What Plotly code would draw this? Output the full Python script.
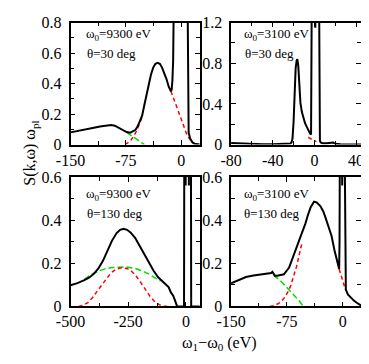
import plotly.graph_objects as go

FONT = "Liberation Serif, Times New Roman, DejaVu Serif, serif"
RED = "#ff0000"
GREEN = "#00dd00"

# ---- panel (a): w0=9300 eV, theta=30 deg
a_x = [-150, -140, -130, -120, -110, -100, -95, -90, -80, -74, -69, -65, -62, -59, -56, -53, -50, -47,
       -44, -41, -38, -35, -32, -29, -26, -23, -20, -17, -15, -14, -13, -12, -11, -10.5, -10,
       8.5, 9, 10, 12, 15, 18, 25]
a_tot = [0.080, 0.088, 0.098, 0.108, 0.118, 0.126, 0.128, 0.124, 0.100, 0.082, 0.078, 0.086, 0.097,
         0.12, 0.15, 0.19, 0.26, 0.33, 0.40, 0.46, 0.505, 0.53, 0.537, 0.53, 0.505, 0.47, 0.43, 0.38,
         0.355, 0.35, 0.36, 0.42, 0.55, 0.75, 1.0, 1.0, 0.3, 0.08, 0.04, 0.015, 0.005, 0.0]
a_red_x = [-76, -72, -68, -64, -60, -56, -53, None, -14, -10, -6, -2, 2, 6, 10, 14, 18]
a_red = [0, 0.012, 0.03, 0.058, 0.095, 0.14, 0.18, None, 0.35, 0.3, 0.245, 0.195, 0.14, 0.085, 0.045,
         0.02, 0.006]
a_grn_x = [-74, -70, -66, -62, -58, -54, -50]
a_grn = [0.08, 0.066, 0.052, 0.038, 0.024, 0.01, 0.0]

# ---- panel (b): w0=3100 eV, theta=30 deg
b_x = [-80, -70, -60, -50, -40, -30, -25, -23, -22, -21, -20, -19, -18, -17, -16.4, -15.5, -15, -14,
       -13.4, -12, -10.5, -9, -7.3, -6, -5, -4, -3.2, -2.8, -2.5, 0.6, 0.9, 1.2, 4.5, 4.9, 5.3, 6, 8,
       12, 14, 16, 17, 18, 19, 21, 25, 35, 45]
b_tot = [0.015, 0.01, 0.006, 0.004, 0.003, 0.004, 0.006, 0.01, 0.02, 0.06, 0.22, 0.5, 0.75, 0.83, 0.84,
         0.78, 0.68, 0.5, 0.41, 0.32, 0.26, 0.21, 0.174, 0.14, 0.12, 0.105, 0.1, 0.6, 1.5, 1.5, 1.15, 1.5,
         1.5, 0.3, 0.04, 0.02, 0.014, 0.012, 0.015, 0.022, 0.024, 0.02, 0.014, 0.008, 0.004, 0.002, 0.001]
b_red_x = [-6, -4, -2, 0, 2]
b_red = [0.07, 0.058, 0.046, 0.036, 0.028]

# ---- panel (c): w0=9300 eV, theta=130 deg
c_x = [-500, -470, -440, -420, -400, -380, -360, -340, -320, -300, -285, -270, -255, -240, -220, -200,
       -180, -160, -140, -120, -100, -85, -75, -65, -55, -48, -42, -38, -8, -7, -1.5, -1, -0.5, 12.5,
       13, 13.5, 22, 23, 40, 60]
c_tot = [0.098, 0.108, 0.122, 0.133, 0.15, 0.175, 0.21, 0.26, 0.305, 0.34, 0.355, 0.36, 0.355, 0.343,
         0.318, 0.28, 0.24, 0.2, 0.165, 0.135, 0.115, 0.1, 0.09, 0.065, 0.05, 0.03, 0.005, 0.0, 0.0,
         0.7, 0.7, 0.56, 0.7, 0.7, 0.56, 0.7, 0.7, 0.0, 0.0, 0.0]
c_red_x = [-465, -445, -425, -405, -385, -365, -345, -325, -305, -285, -270, -255, -235, -215, -195,
           -175, -155, -135, -115, -95, -80]
c_red = [0, 0.005, 0.018, 0.04, 0.07, 0.1, 0.13, 0.155, 0.171, 0.178, 0.178, 0.176, 0.163, 0.14, 0.11,
         0.077, 0.046, 0.022, 0.008, 0.002, 0]
c_grn_x = [-440, -410, -380, -350, -320, -290, -270, -250, -220, -190, -160, -130, -110]
c_grn = [0.125, 0.148, 0.163, 0.174, 0.18, 0.183, 0.183, 0.182, 0.176, 0.165, 0.15, 0.13, 0.118]

# ---- panel (d): w0=3100 eV, theta=130 deg
d_x = [-150, -140, -130, -120, -110, -100, -96, -94.5, -93, -91, -88, -84, -79, -72, -66, -60, -55,
       -50, -47, -43, -38.5, -35, -30, -26, -23.5, -19, -15, -11, -8, -6.4, -4.7, -4.2, -3.8, -1,
       -0.6, -0.2, 2.8, 3.6, 4.3, 7, 10.7, 15, 19, 22, 25]
d_tot = [0.107, 0.123, 0.136, 0.143, 0.148, 0.152, 0.155, 0.16, 0.152, 0.142, 0.142, 0.145, 0.149,
         0.18, 0.235, 0.29, 0.33, 0.385, 0.42, 0.46, 0.485, 0.482, 0.465, 0.44, 0.416, 0.37, 0.328,
         0.26, 0.215, 0.195, 0.173, 0.3, 0.7, 0.7, 0.56, 0.7, 0.7, 0.12, 0.078, 0.056, 0.041, 0.027,
         0.017, 0.009, 0.004]
d_red_x = [-98, -92, -86, -82, -78, -74, -70, -66, -62, -58, -55, None, -4.7, -2, 0, 2, 4]
d_red = [0, 0.004, 0.014, 0.025, 0.042, 0.065, 0.095, 0.135, 0.185, 0.245, 0.29, None, 0.173, 0.14,
         0.12, 0.1, 0.075]
d_grn_x = [-93, -88, -84, -80, -76, -72, -68, -64, -60, -56, -53]
d_grn = [0.145, 0.133, 0.12, 0.106, 0.092, 0.078, 0.064, 0.048, 0.032, 0.015, 0.0]

panels = [
    ("x", "y", a_x, a_tot, a_red_x, a_red, a_grn_x, a_grn),
    ("x2", "y2", b_x, b_tot, b_red_x, b_red, [], []),
    ("x3", "y3", c_x, c_tot, c_red_x, c_red, c_grn_x, c_grn),
    ("x4", "y4", d_x, d_tot, d_red_x, d_red, d_grn_x, d_grn),
]

# the page body adds an 8px margin, so the figure is drawn 8px smaller and positions
# below are given in window pixels and shifted back into paper coordinates
OFF = 8
W, H = 369 - OFF, 364 - OFF


def px(v):
    return min(1.0, max(0.0, (v - OFF) / W))


def py(v):
    return min(1.0, max(0.0, 1 - (v - OFF) / H))


fig = go.Figure()
for xa, ya, x, tot, rx, ry, gx, gy in panels:
    if gx:
        fig.add_trace(go.Scatter(x=gx, y=gy, mode="lines", xaxis=xa, yaxis=ya,
                                 line=dict(color=GREEN, width=1.5, dash="6px,3px")))
    fig.add_trace(go.Scatter(x=rx, y=ry, mode="lines", xaxis=xa, yaxis=ya,
                             line=dict(color=RED, width=1.5, dash="4px,3px")))
    fig.add_trace(go.Scatter(x=x, y=tot, mode="lines", xaxis=xa, yaxis=ya,
                             line=dict(color="black", width=2)))

tickfont = dict(family=FONT, size=16, color="black")


def axis(domain, anchor, rng, tickvals, minor_dtick, minor_tick0, standoff):
    return dict(domain=domain, anchor=anchor, range=rng, showline=True, linecolor="black",
                linewidth=1.5, mirror="allticks", ticks="inside", ticklen=5, tickwidth=1,
                tickcolor="black", showgrid=False, zeroline=False, tickfont=tickfont,
                tickmode="array", tickvals=tickvals, ticktext=[("%g" % v) for v in tickvals],
                ticklabelstandoff=standoff,
                minor=dict(ticks="inside", ticklen=4, tickwidth=1, tickcolor="black",
                           dtick=minor_dtick, tick0=minor_tick0, showgrid=False))


xl = [px(58), px(194)]
xr = [px(227), px(364)]
# top edge kept low enough for the "0.8" / "1.2" labels to stay on the page
yt = [py(143), py(15)]
yb = [py(313), py(177)]

fig.update_layout(
    width=W, height=H, autosize=False,
    margin=dict(l=0, r=0, t=0, b=0),
    paper_bgcolor="white", plot_bgcolor="white",
    showlegend=False,
    font=dict(family=FONT, color="black"),
    xaxis=axis(xl, "y", [-150, 25], [-150, -75, 0], 37.5, -150, 0),
    yaxis=axis(yt, "x", [0, 0.8], [0, 0.2, 0.4, 0.6, 0.8], 0.1, 0, 4),
    xaxis2=axis(xr, "y2", [-80, 45], [-80, -40, 0, 40], 20, -80, 0),
    yaxis2=axis(yt, "x2", [0, 1.2], [0, 0.4, 0.8, 1.2], 0.2, 0, 4),
    xaxis3=axis(xl, "y3", [-500, 60], [-500, -250, 0], 125, -500, 0),
    yaxis3=axis(yb, "x3", [0, 0.6], [0, 0.2, 0.4, 0.6], 0.1, 0, 4),
    xaxis4=axis(xr, "y4", [-150, 25], [-150, -75, 0], 37.5, -150, 0),
    yaxis4=axis(yb, "x4", [0, 0.6], [0, 0.2, 0.4, 0.6], 0.1, 0, 4),
)

labels = [
    (72, 27, "ω<sub>0</sub>=9300 eV"), (73, 47, "θ=30 deg"),
    (238, 27, "ω<sub>0</sub>=3100 eV"), (240, 47, "θ=30 deg"),
    (72, 195, "ω<sub>0</sub>=9300 eV"), (73, 215, "θ=130 deg"),
    (238, 195, "ω<sub>0</sub>=3100 eV"), (238, 215, "θ=130 deg"),
]
for lx, ly, txt in labels:
    fig.add_annotation(x=px(lx), y=py(ly), xref="paper", yref="paper", text=txt,
                       showarrow=False, xanchor="left", yanchor="middle",
                       font=dict(family=FONT, size=13, color="black"))

fig.add_annotation(x=px(16), y=py(152), xref="paper", yref="paper",
                   text="S(k,ω) ω<sub>pl</sub>", textangle=-90, showarrow=False,
                   xanchor="center", yanchor="middle", font=dict(family=FONT, size=16, color="black"))
fig.add_annotation(x=px(215), y=py(352), xref="paper", yref="paper",
                   text="ω<sub>1</sub>−ω<sub>0</sub> (eV)", showarrow=False,
                   xanchor="center", yanchor="middle", font=dict(family=FONT, size=16, color="black"))

fig.write_html("out.html")
